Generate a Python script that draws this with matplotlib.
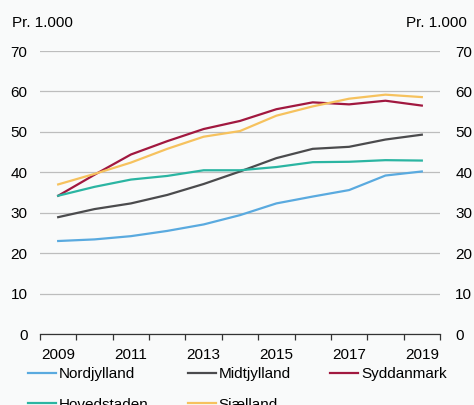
import numpy as np
import matplotlib.pyplot as plt

plt.rcParams['font.family'] = ['Liberation Sans', 'DejaVu Sans']

years = [2009, 2010, 2011, 2012, 2013, 2014, 2015, 2016, 2017, 2018, 2019]
nordjylland = [23.0, 23.4, 24.2, 25.5, 27.1, 29.4, 32.3, 34.0, 35.6, 39.2, 40.2]
midtjylland = [28.9, 30.9, 32.3, 34.4, 37.1, 40.2, 43.5, 45.8, 46.3, 48.1, 49.3]
syddanmark = [34.2, 39.4, 44.4, 47.7, 50.7, 52.7, 55.6, 57.3, 56.8, 57.7, 56.5]
hovedstaden = [34.2, 36.4, 38.2, 39.1, 40.5, 40.5, 41.3, 42.5, 42.6, 43.0, 42.9]
sjaelland = [37.0, 39.6, 42.4, 45.8, 48.8, 50.2, 54.0, 56.3, 58.2, 59.2, 58.6]

series = [
    ("Nordjylland", nordjylland, "#5aaadf"),
    ("Midtjylland", midtjylland, "#4b4b4d"),
    ("Syddanmark", syddanmark, "#a1183f"),
    ("Hovedstaden", hovedstaden, "#2bb5a2"),
    ("Sjælland", sjaelland, "#f6c25e"),
]

bg = "#f9fafa"
fs = 11
fig = plt.figure(figsize=(4.74, 4.05), dpi=100, facecolor=bg)
ax = fig.add_axes([40/474, 1-334/405, 400/474, 283/405], facecolor=bg)

x = np.arange(len(years))
lines = {}
for name, vals, col in series:
    lines[name], = ax.plot(x, vals, color=col, lw=1.6, label=name, zorder=3)

ax.set_xlim(-0.5, len(years) - 0.5)
ax.set_ylim(0, 70)
ax.set_yticks(range(0, 71, 10))
ax.yaxis.grid(True, color="#bdbdbd", lw=0.9)
ax.set_axisbelow(True)
for s in ["top", "right", "left"]:
    ax.spines[s].set_visible(False)
ax.spines["bottom"].set_color("#333333")
ax.spines["bottom"].set_linewidth(0.9)

ax.set_xticks(x[::2])
ax.set_xticklabels([str(y) for y in years[::2]], fontsize=fs)
ax.set_xticks(np.arange(-0.5, len(years)), minor=True)
ax.tick_params(axis="x", which="major", length=0, pad=10)
ax.tick_params(axis="x", which="minor", length=4, color="#333333", width=0.9)
ax.tick_params(axis="y", length=0, labelsize=fs, pad=9)

ax2 = ax.twinx()
ax2.set_ylim(0, 70)
ax2.set_yticks(range(0, 71, 10))
ax2.tick_params(axis="y", length=0, labelsize=fs, pad=11)
for s in ax2.spines.values():
    s.set_visible(False)

fig.text(12/474, 1-23/405, "Pr. 1.000", fontsize=fs, va="center", ha="left")
fig.text(467/474, 1-23/405, "Pr. 1.000", fontsize=fs, va="center", ha="right")

# legend fills column-wise, so reorder to get row-wise layout
order = ["Nordjylland", "Hovedstaden", "Midtjylland", "Sjælland", "Syddanmark"]
fig.legend([lines[n] for n in order], order, loc="upper left",
           bbox_to_anchor=(28/474, 1-367/405), ncol=3,
           frameon=False, fontsize=fs, handlelength=1.8, handletextpad=0.2,
           columnspacing=2.6, borderpad=0, borderaxespad=0, labelspacing=1.1)

fig.savefig("out.png", dpi=100, facecolor=bg)
